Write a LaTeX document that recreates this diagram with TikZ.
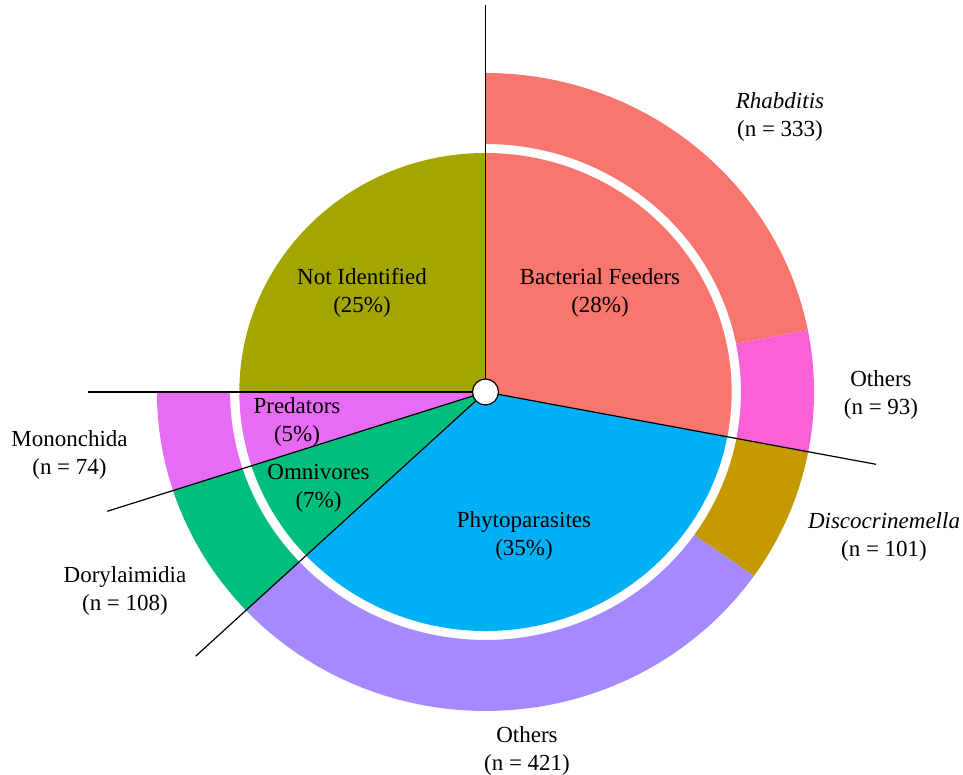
\documentclass[tikz,border=0pt]{standalone}
\usepackage{fontspec}
\setmainfont{Liberation Serif}
\definecolor{cbact}{HTML}{F8766D}
\definecolor{cnotid}{HTML}{A3A500}
\definecolor{comni}{HTML}{00BF7D}
\definecolor{cphyto}{HTML}{00B0F6}
\definecolor{cpred}{HTML}{E76BF3}
\definecolor{cothb}{HTML}{FB61D7}
\definecolor{cdisco}{HTML}{C49A00}
\definecolor{cothp}{HTML}{A58AFF}
\begin{document}
\begin{tikzpicture}[x=1pt,y=1pt,
  lbl/.style={font=\fontsize{23}{28}\selectfont, align=center, inner sep=0pt},
  sepline/.style={line width=1.2pt, black}]
\useasboundingbox (0,0) rectangle (963,775);
\begin{scope}[shift={(485.5,383)}, xscale=1.03]
  % inner pie
  \fill[cbact]  (0,0) -- (90:239)    arc[start angle=90,    end angle=-10.8,  radius=239] -- cycle;
  \fill[cphyto] (0,0) -- (-10.8:239) arc[start angle=-10.8, end angle=-136.8, radius=239] -- cycle;
  \fill[comni]  (0,0) -- (-136.8:239) arc[start angle=-136.8, end angle=-162, radius=239] -- cycle;
  \fill[cpred]  (0,0) -- (-162:239)  arc[start angle=-162,  end angle=-180,   radius=239] -- cycle;
  \fill[cnotid] (0,0) -- (180:239)   arc[start angle=180,   end angle=90,     radius=239] -- cycle;
  % outer ring
  \fill[cbact]  (90:248) arc[start angle=90, end angle=11.2, radius=248] -- (11.2:319) arc[start angle=11.2, end angle=90, radius=319] -- cycle;
  \fill[cothb]  (11.2:248) arc[start angle=11.2, end angle=-10.8, radius=248] -- (-10.8:319) arc[start angle=-10.8, end angle=11.2, radius=319] -- cycle;
  \fill[cdisco] (-10.8:248) arc[start angle=-10.8, end angle=-35.2, radius=248] -- (-35.2:319) arc[start angle=-35.2, end angle=-10.8, radius=319] -- cycle;
  \fill[cothp]  (-35.2:248) arc[start angle=-35.2, end angle=-136.8, radius=248] -- (-136.8:319) arc[start angle=-136.8, end angle=-35.2, radius=319] -- cycle;
  \fill[comni]  (-136.8:248) arc[start angle=-136.8, end angle=-162, radius=248] -- (-162:319) arc[start angle=-162, end angle=-136.8, radius=319] -- cycle;
  \fill[cpred]  (-162:248) arc[start angle=-162, end angle=-180, radius=248] -- (-180:319) arc[start angle=-180, end angle=-162, radius=319] -- cycle;
  % separator lines
  \coordinate (c0) at (0,0);
  \coordinate (e1) at (90:387);
  \coordinate (e2) at (-10.8:386);
  \coordinate (e3) at (-136.8:386);
  \coordinate (e4) at (-162:386);
  \coordinate (e5) at (180:386);
  \draw[sepline] (c0) -- (e1);
  \draw[sepline] (c0) -- (e2);
  \draw[sepline] (c0) -- (e3);
  \draw[sepline] (c0) -- (e4);
  \draw[sepline] (c0) -- (e5);
\end{scope}
\node[circle, draw, line width=1.2pt, fill=white, minimum size=26pt, inner sep=0pt] (hub) at (485.5,383) {};
% labels
\node[lbl] (lnotid) at (362, 482.5) {Not Identified\\(25\%)};
\node[lbl] (lbact) at (600, 482.5) {Bacterial Feeders\\(28\%)};
\node[lbl] (lpred) at (297, 353.5) {Predators\\(5\%)};
\node[lbl] (lomni) at (318.5, 287) {Omnivores\\(7\%)};
\node[lbl] (lphyto) at (524, 239) {Phytoparasites\\(35\%)};
\node[lbl] (lrhab) at (780, 658.5) {\textit{Rhabditis}\\(n = 333)};
\node[lbl] (lothb) at (881, 380.5) {Others\\(n = 93)};
\node[lbl] (ldisco) at (884, 238.5) {\textit{Discocrinemella}\\(n = 101)};
\node[lbl] (ldory) at (125, 184.5) {Dorylaimidia\\(n = 108)};
\node[lbl] (lmono) at (69.5, 320.5) {Mononchida\\(n = 74)};
\node[lbl] (lothp) at (527, 24) {Others\\(n = 421)};
\end{tikzpicture}
\end{document}
